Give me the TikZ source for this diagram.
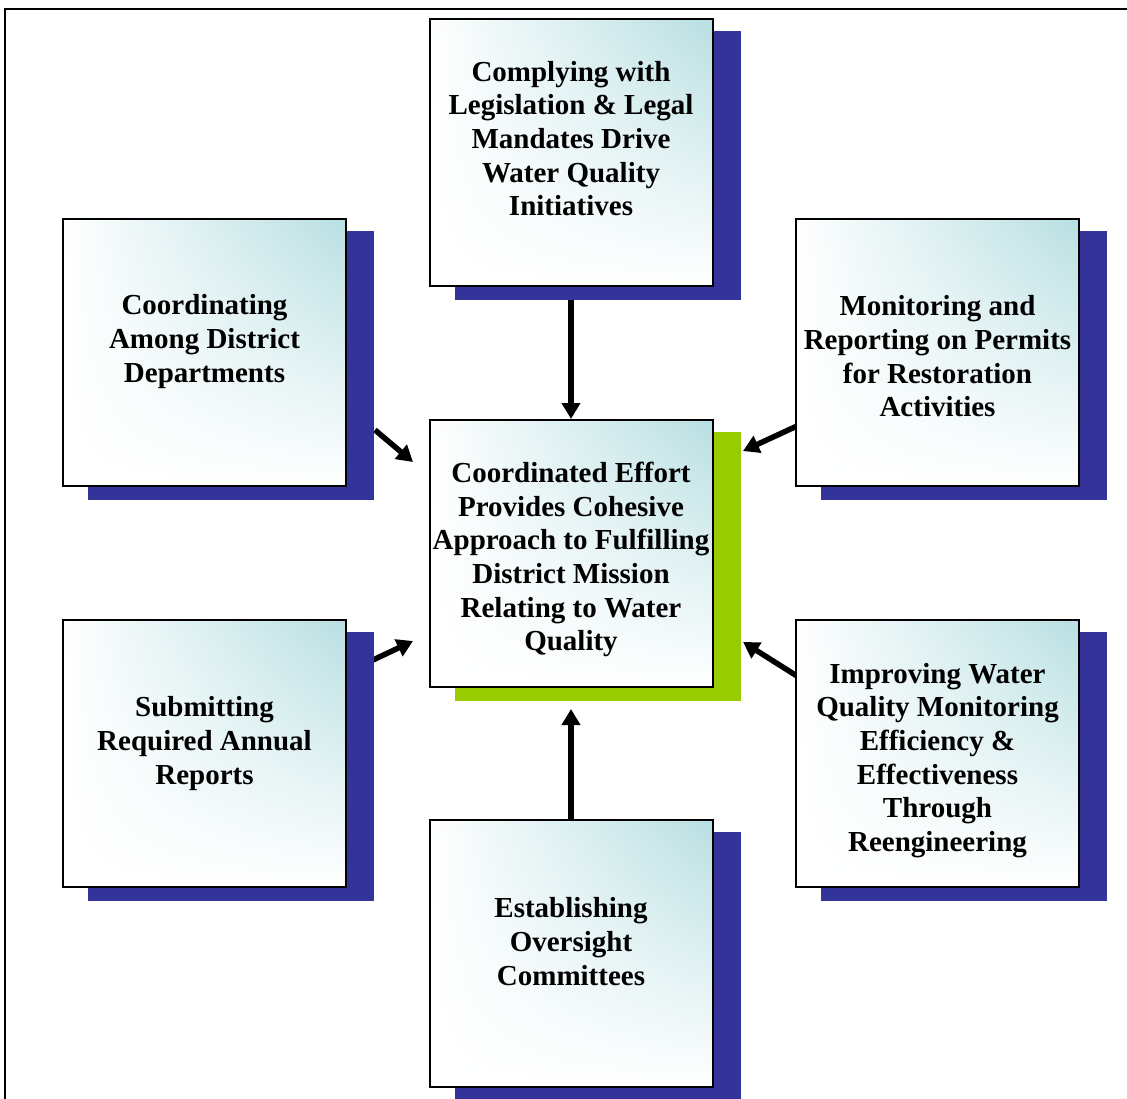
\documentclass[tikz,border=0pt]{standalone}
\usepackage{fontspec}
\setmainfont{Liberation Serif}
\usetikzlibrary{arrows.meta,calc,backgrounds,shadings}
\definecolor{shadowblue}{RGB}{51,51,153}
\definecolor{shadowgreen}{RGB}{153,204,0}
\definecolor{tealtop}{RGB}{184,223,226}
\tikzset{
  box/.style={draw=black, line width=2pt, minimum width=283pt, minimum height=267pt, inner sep=0pt,
    upper left=white, upper right=tealtop, lower left=white, lower right=white},
  lbl/.style={font=\bfseries\fontsize{29}{33.7}\selectfont, align=center, inner sep=0pt},
  conn/.style={line width=5.5pt, -{Triangle[length=16pt,width=18pt]}},
}
\begin{document}
\begin{tikzpicture}[x=1pt,y=-1pt]
\useasboundingbox (0,0) rectangle (1127,1098);
% frame
\draw[line width=2pt] (5,1100) -- (5,9) -- (1130,9);
% boxes
\node[box] (top) at (571,152.5) {};
\node[box] (mid) at (571,553.5) {};
\node[box] (lu) at (204.5,352.5) {};
\node[box] (ru) at (937.5,352.5) {};
\node[box] (ll) at (204.5,753.5) {};
\node[box] (rl) at (937.5,753.5) {};
\node[box] (bot) at (571,953.5) {};
% labels
\node[lbl] (ttop) at ($(top.center)+(0,-14)$) {Complying with\\Legislation \& Legal\\Mandates Drive\\Water Quality\\Initiatives};
\node[lbl] (tmid) at ($(mid.center)+(0,6)$) {Coordinated Effort\\Provides Cohesive\\Approach to Fulfilling\\District Mission\\Relating to Water\\Quality};
\node[lbl] (tlu) at ($(lu.center)+(0,-11)$) {Coordinating\\Among District\\Departments};
\node[lbl] (tru) at ($(ru.center)+(0,4)$) {Monitoring and\\Reporting on Permits\\for Restoration\\Activities};
\node[lbl] (tll) at ($(ll.center)+(0,-10)$) {Submitting\\Required Annual\\Reports};
\node[lbl] (trl) at ($(rl.center)+(0,7)$) {Improving Water\\Quality Monitoring\\Efficiency \&\\Effectiveness\\Through\\Reengineering};
\node[lbl] (tbot) at ($(bot.center)+(0,-12)$) {Establishing\\Oversight\\Committees};
% arrow end points
\coordinate (botTip) at (571,709);
\coordinate (luS) at (375,430); \coordinate (luT) at (413,462);
\coordinate (ruS) at (797,426); \coordinate (ruT) at (743,451);
\coordinate (llS) at (373,660); \coordinate (llT) at (413,641);
\coordinate (rlS) at (797,676); \coordinate (rlT) at (743,642);
\begin{scope}[on background layer]
  \draw[conn] (top.south) -- (mid.north);
  \draw[conn] (bot.north) -- (botTip);
  \draw[conn] (luS) -- (luT);
  \draw[conn] (ruS) -- (ruT);
  \draw[conn] (llS) -- (llT);
  \draw[conn] (rlS) -- (rlT);
  \foreach \b in {top,lu,ru,ll,rl,bot}
    \fill[shadowblue] ($(\b.south west)+(26,13)$) rectangle ($(\b.north east)+(27,13)$);
  \fill[shadowgreen] ($(mid.south west)+(26,13)$) rectangle ($(mid.north east)+(27,13)$);
\end{scope}
\end{tikzpicture}
\end{document}
